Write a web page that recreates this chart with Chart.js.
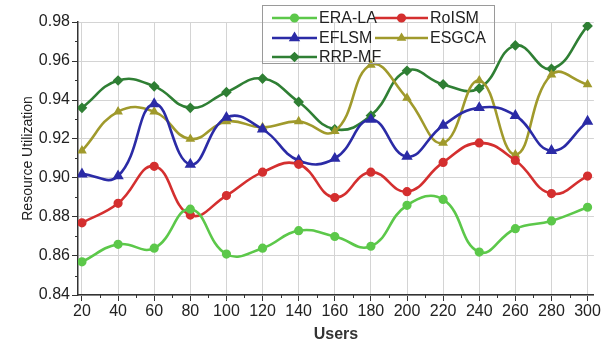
<!DOCTYPE html>
<html><head><meta charset="utf-8">
<script src="https://cdn.jsdelivr.net/npm/chart.js@4.4.1/dist/chart.umd.min.js"></script>
<style>html,body{margin:0;padding:0;background:#fff}#wrap{width:602px;height:344px}</style>
</head><body><div id="wrap"><canvas id="c" width="602" height="344"></canvas></div>
<script>
const users = [20,40,60,80,100,120,140,160,180,200,220,240,260,280,300];
const eraLA = [0.857,0.866,0.864,0.884,0.861,0.864,0.873,0.870,0.865,0.886,0.889,0.862,0.874,0.878,0.885];
const roISM = [0.877,0.887,0.906,0.881,0.891,0.903,0.907,0.890,0.903,0.893,0.908,0.918,0.909,0.892,0.901];
const eflsm = [0.902,0.901,0.938,0.907,0.931,0.925,0.909,0.910,0.930,0.911,0.927,0.936,0.932,0.914,0.929];
const esgca = [0.914,0.934,0.934,0.920,0.929,0.926,0.929,0.924,0.958,0.941,0.918,0.950,0.912,0.953,0.948];
const rrpMF = [0.936,0.950,0.947,0.936,0.944,0.951,0.939,0.925,0.932,0.955,0.948,0.946,0.968,0.956,0.978];
const yTicks = [0.84,0.86,0.88,0.90,0.92,0.94,0.96,0.98];
const seriesNames = ['ERA-LA','RoISM','EFLSM','ESGCA','RRP-MF'];

const colors = ['#5cc84a','#d42f2f','#2b2ba6','#a09a2c','#2f7f34'];
const shapes = ['circle','circle','triangle','triangle','rectRot'];
const radii = [3.3,3.3,4,3,3.5];
const vals = [eraLA,roISM,eflsm,esgca,rrpMF];

const datasets = seriesNames.map((n,i)=>({
  label:n,
  data: users.map((u,k)=>({x:u,y:vals[i][k]})),
  borderColor:colors[i], backgroundColor:colors[i],
  pointStyle:shapes[i], pointRadius:radii[i], borderWidth:2.6,
  tension:0.45, fill:false
}));

const FONT = '"Liberation Sans", Arial, sans-serif';

const minorTicks = {
  id:'minorTicks',
  afterDraw(chart){
    const ctx=chart.ctx, xs=chart.scales.x, ys=chart.scales.y, a=chart.chartArea;
    ctx.save(); ctx.strokeStyle='#333'; ctx.lineWidth=1;
    ctx.beginPath();
    for(let v=30; v<300; v+=20){ const p=Math.round(xs.getPixelForValue(v))+0.5; ctx.moveTo(p,a.bottom); ctx.lineTo(p,a.bottom+3); }
    for(let v=0.85; v<0.98; v+=0.02){ const p=Math.round(ys.getPixelForValue(v))+0.5; ctx.moveTo(a.left,p); ctx.lineTo(a.left-3,p); }
    ctx.stroke(); ctx.restore();
  }
};

const boxLegend = {
  id:'boxLegend',
  afterDraw(chart){
    const ctx=chart.ctx;
    ctx.save();
    ctx.strokeStyle='#9a9a9a'; ctx.lineWidth=1;
    ctx.strokeRect(262.5,5.5,232,58);
    const pos=[[272,18],[375,18],[272,38],[375,38],[272,57]];
    ctx.font='16px '+FONT; ctx.textBaseline='middle'; ctx.fillStyle='#222';
    chart.data.datasets.forEach((d,i)=>{
      const [x,y]=pos[i];
      const len = i%2===0 ? 45 : 53;
      ctx.strokeStyle=d.borderColor; ctx.lineWidth=2.6;
      ctx.beginPath(); ctx.moveTo(x,y); ctx.lineTo(x+len,y); ctx.stroke();
      ctx.fillStyle=d.backgroundColor;
      Chart.helpers.drawPoint(ctx,{pointStyle:d.pointStyle,radius:d.pointRadius,borderWidth:1},x+len/2,y);
      ctx.fillStyle='#222';
      ctx.fillText(d.label,x+len+2,y+1);
    });
    ctx.restore();
  }
};

new Chart(document.getElementById('c'),{
  type:'line',
  data:{datasets},
  options:{
    responsive:false, animation:false,
    layout:{padding:{top:22,right:4,left:0,bottom:0}},
    plugins:{legend:{display:false},tooltip:{enabled:false}},
    scales:{
      x:{type:'linear',min:17.8,max:303.5,
        afterBuildTicks(s){ s.ticks = users.map(v=>({value:v})); },
        afterFit(s){ s.height=49; },
        ticks:{font:{family:FONT,size:16},color:'#222',padding:1,maxRotation:0,autoSkip:false},
        grid:{color:'#d4d4d4',tickColor:'#333',tickLength:6,lineWidth:1},
        border:{color:'#333',width:1.5},
        title:{display:true,text:'Users',font:{family:FONT,size:16,weight:'bold'},color:'#333',padding:{top:6,bottom:0}}
      },
      y:{min:0.84,max:0.98,
        afterBuildTicks(s){ s.ticks = yTicks.map(v=>({value:v})); },
        afterFit(s){ s.width=78; },
        ticks:{font:{family:FONT,size:16},color:'#222',padding:2,callback:v=>v.toFixed(2)},
        grid:{color:'#d4d4d4',tickColor:'#333',tickLength:6,lineWidth:1},
        border:{color:'#333',width:1.5},
        title:{display:true,text:'Resource Utilization',font:{family:FONT,size:14},color:'#222',padding:{top:20,bottom:0}}
      }
    }
  },
  plugins:[minorTicks,boxLegend]
});
</script></body></html>
